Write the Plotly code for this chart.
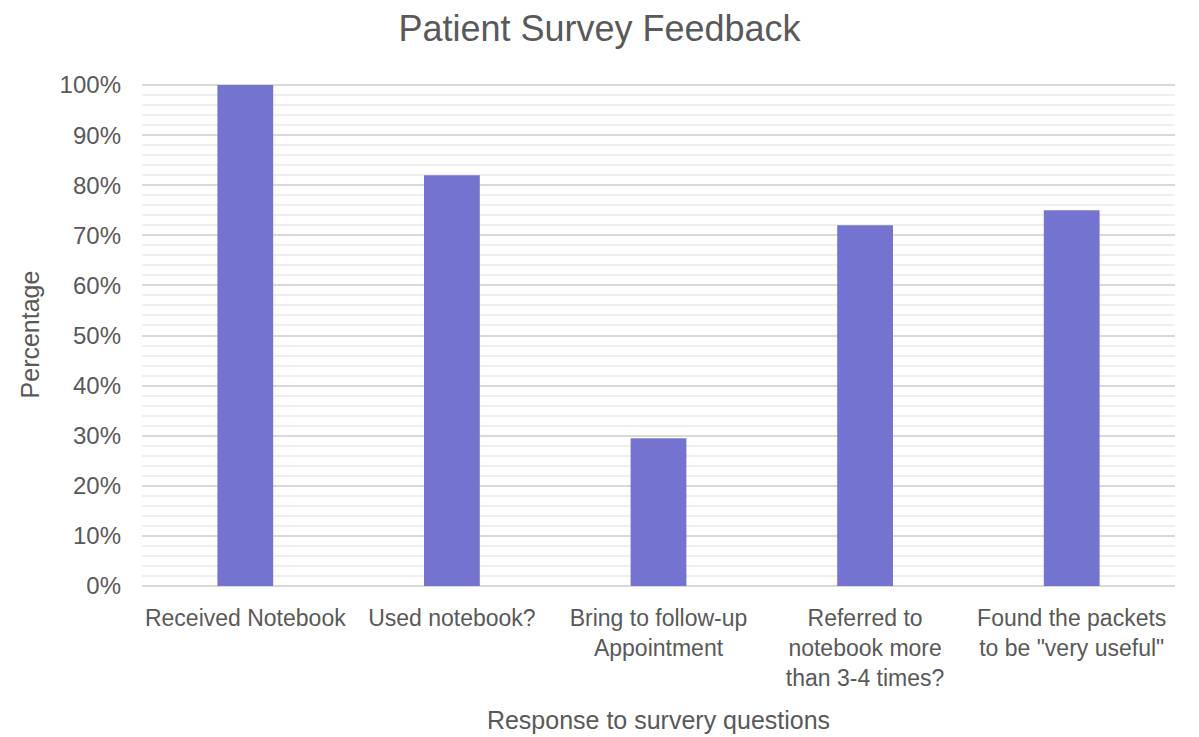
import plotly.graph_objects as go

categories = ["Received Notebook", "Used notebook?", "Bring to follow-up<br>Appointment",
              "Referred to<br>notebook more<br>than 3-4 times?", "Found the packets<br>to be \"very useful\""]
values = [100, 82, 29.5, 72, 75]
title = "Patient Survey Feedback"
x_title = "Response to survery questions"
y_title = "Percentage"

FONT = "Liberation Sans, Arial, sans-serif"
GRAY = "#595959"

fig = go.Figure(go.Bar(x=categories, y=values, marker=dict(color="#7474D0", line=dict(width=0))))

fig.update_layout(
    width=1199, height=737,
    margin=dict(l=142, r=24, t=83, b=151),
    paper_bgcolor="white", plot_bgcolor="white",
    bargap=0.73,
    font=dict(family=FONT, color=GRAY, size=23),
    title=dict(text=title, x=0.5, xref="container", xanchor="center",
               y=1 - 28 / 737, yref="container", yanchor="middle",
               font=dict(size=36, color=GRAY, family=FONT)),
    showlegend=False,
)
fig.update_xaxes(
    title=dict(text=x_title, font=dict(size=25, color=GRAY), standoff=21),
    tickfont=dict(size=23, color=GRAY),
    ticklabelstandoff=16,
    showline=False, ticks="", automargin=False,
)
fig.update_yaxes(
    range=[0, 100.4], tickvals=list(range(0, 101, 10)),
    ticktext=[f"{v}%" for v in range(0, 101, 10)],
    showgrid=True, gridcolor="#d9d9d9", gridwidth=1.5,
    zeroline=True, zerolinecolor="#d9d9d9", zerolinewidth=1.5,
    minor=dict(tickvals=[v for v in range(0, 101, 2) if v % 10], showgrid=True, gridcolor="#efefef", gridwidth=1.5),
    tickfont=dict(size=24, color=GRAY),
    ticklabelstandoff=20,
    title=dict(text=y_title, font=dict(size=25, color=GRAY), standoff=12),
    ticks="", showline=False, automargin=False,
)

fig.write_html("out.html")
